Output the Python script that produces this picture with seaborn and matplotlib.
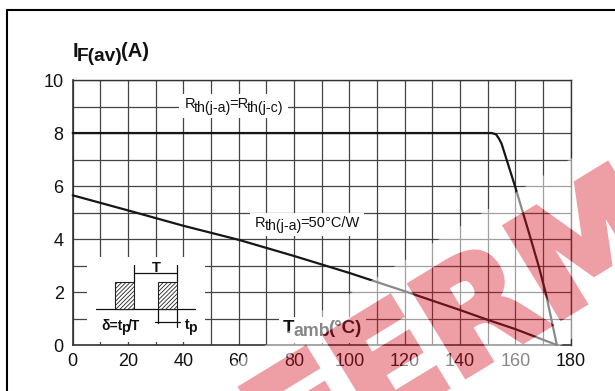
import numpy as np
import pandas as pd
import matplotlib
matplotlib.use("Agg")
import matplotlib.pyplot as plt
import seaborn as sns
from matplotlib.patches import Rectangle, PathPatch
from matplotlib.path import Path
from matplotlib.textpath import TextPath
from matplotlib.font_manager import FontProperties
from matplotlib.transforms import Affine2D, offset_copy, Bbox
from matplotlib.ticker import MultipleLocator
from matplotlib.lines import Line2D

# Average forward current vs ambient temperature
t_case = [0, 151.5, 153, 154, 155, 160, 165, 168.5, 171, 175]
i_case = [8.0, 8.0, 7.95, 7.8, 7.6, 5.95, 4.2, 2.95, 1.95, 0.0]

t_amb50 = [0, 20, 40, 60, 80, 100, 120, 140, 150, 160, 175]
i_amb50 = [5.65, 5.08, 4.5, 3.97, 3.36, 2.72, 2.03, 1.32, 0.95, 0.6, 0.0]

x_ticks = [0, 20, 40, 60, 80, 100, 120, 140, 160, 180]
y_ticks = [0, 2, 4, 6, 8, 10]

W, H = 615, 391

sns.set_theme(style="white")
plt.rcParams['font.family'] = ['Liberation Sans', 'DejaVu Sans']
plt.rcParams['hatch.linewidth'] = 0.6

fig = plt.figure(figsize=(W / 100, H / 100), dpi=100)
ax = fig.add_axes([0.1182, 0.1176, 0.8098, 0.6777])

df_case = pd.DataFrame({"T": t_case, "I": i_case})
df_amb = pd.DataFrame({"T": t_amb50, "I": i_amb50})
line_kw = dict(color="#161616", linewidth=1.6, estimator=None, legend=False)
sns.lineplot(data=df_case, x="T", y="I", ax=ax, zorder=3, **line_kw)
sns.lineplot(data=df_amb, x="T", y="I", ax=ax, zorder=3, **line_kw)
for ln in ax.lines:
    ln.set_clip_on(False)

ax.set_xlim(0, 180)
ax.set_ylim(0, 10)
ax.set_xticks(x_ticks)
ax.set_yticks(y_ticks)
ax.set_xticklabels([str(v) for v in x_ticks])
ax.set_yticklabels([str(v) for v in y_ticks])
ax.xaxis.set_minor_locator(MultipleLocator(10))
ax.yaxis.set_minor_locator(MultipleLocator(1))
ax.grid(True, which="both", color="#444444", linewidth=0.9)
ax.set_axisbelow(True)
ax.tick_params(which="both", length=0, labelsize=13, colors="#111111")
ax.tick_params(axis="x", pad=6)
ax.tick_params(axis="y", pad=6.5)
ax.set_xlabel("")
ax.set_ylabel("")
for sp in ax.spines.values():
    sp.set_color("#333333")
    sp.set_linewidth(1.0)
ax.spines["left"].set_linewidth(1.2)
ax.spines["bottom"].set_linewidth(1.2)

renderer = fig.canvas.get_renderer()


def rich_text(x, y, pieces, size, weight="normal", ha="left", box_pad=None,
              zorder=4, tighten=1.5):
    """Lay out text pieces side by side; each piece has its own baseline shift."""
    widths = []
    for s, dy, sc in pieces:
        t = ax.text(0, 0, s, fontsize=size * sc, fontweight=weight)
        widths.append(t.get_window_extent(renderer).width - tighten)
        t.remove()
    total = sum(widths)
    cur = {"left": 0.0, "center": -total / 2, "right": -total}[ha]
    arts = []
    for (s, dy, sc), w in zip(pieces, widths):
        tr = offset_copy(ax.transData, fig=fig, x=cur, y=dy, units="dots")
        arts.append(ax.text(x, y, s, transform=tr, fontsize=size * sc,
                            fontweight=weight, va="baseline", ha="left",
                            clip_on=False, zorder=zorder, color="#111111"))
        cur += w
    if box_pad is not None:
        bb = Bbox.union([a.get_window_extent(renderer) for a in arts])
        px, py = box_pad
        (x0, y0), (x1, y1) = ax.transData.inverted().transform(
            [[bb.x0 - px, bb.y0 - py], [bb.x1 + px, bb.y1 + py]])
        ax.add_patch(Rectangle((x0, y0), x1 - x0, y1 - y0, fc="white",
                               ec="none", zorder=1.5))
    return arts


# axis titles
rich_text(0, 10.86, [("I", 0, 1), ("F(av)", -3.5, 0.95), ("(A)", 0, 1)],
          14.5, weight="bold")
rich_text(76.1, 0.46, [("T", 0, 1), ("amb", -3.5, 0.95), ("(°C)", 0, 1)],
          13.5, weight="bold", box_pad=(4, 3))

# curve labels
rich_text(58, 8.93, [("R", 0, 1), ("th(j-a)", -3.5, 0.97), ("=R", 0, 1),
                     ("th(j-c)", -3.5, 0.97)], 10.5, ha="center", box_pad=(5, 3))
rich_text(84.5, 4.46, [("R", 0, 1), ("th(j-a)", -3.5, 0.97),
                       ("=50°C/W", 0, 1)], 10.5, ha="center", box_pad=(5, 3))

# duty-cycle sketch
ax.add_patch(Rectangle((5, 0.12), 42.8, 3.21, fc="white", ec="none", zorder=1.5))
base_y, top_y = 1.36, 2.39
sk = dict(color="#111111", linewidth=0.9, zorder=4)
ax.plot([8.3, 44.2], [base_y, base_y], **sk)
for x0, x1 in [(15.3, 22.2), (30.9, 37.6)]:
    ax.add_patch(Rectangle((x0, base_y), x1 - x0, top_y - base_y, fc="white",
                           ec="#222222", hatch="////////", linewidth=0.8, zorder=4))
ax.plot([22.2, 22.2], [top_y, 3.02], **sk)
ax.plot([37.6, 37.6], [top_y, 3.02], **sk)
ax.plot([22.2, 37.6], [2.71, 2.71], **sk)
ax.plot([30.9, 30.9], [base_y, 0.82], **sk)
ax.plot([37.6, 37.6], [base_y, 0.68], **sk)
ax.plot([29.7, 38.8], [0.88, 0.88], **sk)
rich_text(30, 2.75, [("T", 0, 1)], 10.5, weight="bold", ha="center")
rich_text(17.1, 0.57, [("δ=t", 0, 1), ("p", -2.5, 1), ("/T", 0, 1)],
          10, weight="bold", ha="center")
rich_text(40.6, 0.59, [("t", 0, 1), ("p", -2.5, 1)], 10, weight="bold")

# page overlay in pixel units: frame and watermark
ov = fig.add_axes([0, 0, 1, 1], zorder=10)
ov.set_xlim(0, W)
ov.set_ylim(0, H)
ov.axis("off")
ov.patch.set_alpha(0)
ov.add_line(Line2D([7, W], [381, 381], color="black", linewidth=1.5))
ov.add_line(Line2D([7, 7], [0, 381], color="black", linewidth=1.5))

# watermark: heavy red lettering on a translucent white ribbon
fp = FontProperties(family="DejaVu Sans", weight="bold")
word = TextPath((0, 0), "FERM", size=145, prop=fp)
ribbon = Path([(-260, -24), (900, -24), (900, 130), (-260, 130), (-260, -24)],
              [Path.MOVETO] + [Path.LINETO] * 3 + [Path.CLOSEPOLY])

mfig = plt.figure(figsize=(W / 100, H / 100), dpi=100)
mfig.patch.set_facecolor("black")
max_ = mfig.add_axes([0, 0, 1, 1])
max_.set_xlim(0, W)
max_.set_ylim(0, H)
max_.axis("off")
mtr = Affine2D().rotate_deg(31.4).translate(286, -94) + max_.transData
max_.add_patch(PathPatch(ribbon, transform=mtr, fc=(0, 0, 1), ec="none"))
max_.add_patch(PathPatch(word, transform=mtr, fc=(1, 0, 0), ec=(1, 0, 0),
                         linewidth=5, joinstyle="miter"))
mfig.canvas.draw()
buf = np.asarray(mfig.canvas.buffer_rgba()).astype(float) / 255.0
plt.close(mfig)

red_m = buf[..., 0]
white_m = buf[..., 2]
red_rgb = np.array([0.843, 0.078, 0.137])
a_red, a_white = 0.41, 0.5
alpha = red_m * a_red + white_m * a_white
rgb = (red_m[..., None] * a_red * red_rgb + white_m[..., None] * a_white) / \
    np.maximum(alpha[..., None], 1e-6)
overlay = np.dstack([np.clip(rgb, 0, 1), alpha])
ov.imshow(overlay, extent=(0, W, 0, H), origin="upper",
          interpolation="nearest", aspect="auto", zorder=5)
ov.set_xlim(0, W)
ov.set_ylim(0, H)

fig.savefig("out.png", dpi=100)
